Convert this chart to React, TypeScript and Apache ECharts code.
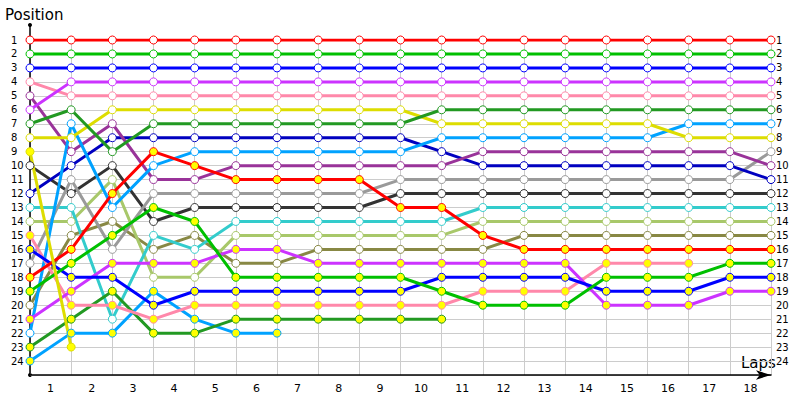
import React, { useEffect, useRef } from "react";
import * as echarts from "echarts";

const lapLabels = ["1", "2", "3", "4", "5", "6", "7", "8", "9", "10", "11", "12", "13", "14", "15", "16", "17", "18"];
const lapPoints = [0, 1, 2, 3, 4, 5, 6, 7, 8, 9, 10, 11, 12, 13, 14, 15, 16, 17, 18];

// positions per lap point (index 0 = start)
const red1 = [1, 1, 1, 1, 1, 1, 1, 1, 1, 1, 1, 1, 1, 1, 1, 1, 1, 1, 1];
const green1 = [2, 2, 2, 2, 2, 2, 2, 2, 2, 2, 2, 2, 2, 2, 2, 2, 2, 2, 2];
const blue1 = [3, 3, 3, 3, 3, 3, 3, 3, 3, 3, 3, 3, 3, 3, 3, 3, 3, 3, 3];
const magenta1 = [6, 4, 4, 4, 4, 4, 4, 4, 4, 4, 4, 4, 4, 4, 4, 4, 4, 4, 4];
const pink1 = [4, 5, 5, 5, 5, 5, 5, 5, 5, 5, 5, 5, 5, 5, 5, 5, 5, 5, 5];
const darkGreen1 = [7, 6, 9, 7, 7, 7, 7, 7, 7, 7, 6, 6, 6, 6, 6, 6, 6, 6, 6];
const yellow1 = [8, 8, 6, 6, 6, 6, 6, 6, 6, 6, 7, 7, 7, 7, 7, 7, 8, 8, 8];
const lightBlue1 = [22, 7, 13, 10, 9, 9, 9, 9, 9, 9, 8, 8, 8, 8, 8, 8, 7, 7, 7];
const purple1 = [5, 9, 7, 11, 11, 10, 10, 10, 10, 10, 10, 9, 9, 9, 9, 9, 9, 9, 10];
const darkBlue1 = [12, 10, 8, 8, 8, 8, 8, 8, 8, 8, 9, 10, 10, 10, 10, 10, 10, 10, 11];
const grey1 = [17, 11, 16, 12, 12, 12, 12, 12, 12, 11, 11, 11, 11, 11, 11, 11, 11, 11, 9];
const black1 = [10, 12, 10, 14, 13, 13, 13, 13, 13, 12, 12, 12, 12, 12, 12, 12, 12, 12, 12];
const cyan1 = [13, 13, 21, 15, 16, 14, 14, 14, 14, 14, 14, 13, 13, 13, 13, 13, 13, 13, 13];
const lightOlive1 = [14, 14, 11, 18, 18, 15, 15, 15, 15, 15, 15, 14, 14, 14, 14, 14, 14, 14, 14];
const olive1 = [20, 15, 14, 16, 15, 17, 17, 16, 16, 16, 16, 16, 15, 15, 15, 15, 15, 15, 15];
const red2 = [18, 16, 12, 9, 10, 11, 11, 11, 11, 13, 13, 15, 16, 16, 16, 16, 16, 16, 16];
const green2 = [19, 17, 15, 13, 14, 18, 18, 18, 18, 18, 19, 20, 20, 20, 18, 18, 18, 17, 17];
const blue2 = [16, 18, 18, 20, 19, 19, 19, 19, 19, 19, 18, 18, 18, 18, 19, 19, 19, 18, 18];
const magenta2 = [21, 19, 17, 17, 17, 16, 16, 17, 17, 17, 17, 17, 17, 17, 20, 20, 20, 19, 19];
const pink2 = [15, 20, 20, 21, 20, 20, 20, 20, 20, 20, 20, 19, 19, 19, 17, 17, 17];
const darkGreen2 = [23, 21, 19, 22, 22, 21, 21, 21, 21, 21, 21];
const lightBlue2 = [24, 22, 22, 19, 21, 22, 22];
const yellow2 = [9, 23];

const drivers = [
  { data: olive1, color: "#888844", fill: "#ffffff" },
  { data: lightOlive1, color: "#a8c86a", fill: "#ffffff" },
  { data: cyan1, color: "#33cccc", fill: "#ffffff" },
  { data: black1, color: "#333333", fill: "#ffffff" },
  { data: grey1, color: "#9a9a9a", fill: "#ffffff" },
  { data: darkBlue1, color: "#0000c0", fill: "#ffffff" },
  { data: purple1, color: "#993399", fill: "#ffffff" },
  { data: lightBlue1, color: "#00a2ff", fill: "#ffffff" },
  { data: yellow1, color: "#dddd00", fill: "#ffffff" },
  { data: darkGreen1, color: "#229922", fill: "#ffffff" },
  { data: pink1, color: "#ff88aa", fill: "#ffffff" },
  { data: magenta1, color: "#cc33ff", fill: "#ffffff" },
  { data: blue1, color: "#0000ff", fill: "#ffffff" },
  { data: green1, color: "#00c000", fill: "#ffffff" },
  { data: red1, color: "#ff0000", fill: "#ffffff" },
  { data: lightBlue2, color: "#00a2ff", fill: "#ffff00" },
  { data: darkGreen2, color: "#229922", fill: "#ffff00" },
  { data: pink2, color: "#ff88aa", fill: "#ffff00" },
  { data: magenta2, color: "#cc33ff", fill: "#ffff00" },
  { data: blue2, color: "#0000ff", fill: "#ffff00" },
  { data: green2, color: "#00c000", fill: "#ffff00" },
  { data: red2, color: "#ff0000", fill: "#ffff00" },
  { data: yellow2, color: "#dddd00", fill: "#ffff00" },
];

const FONT = "DejaVu Sans";

export default function App() {
  const ref = useRef<HTMLDivElement>(null);
  useEffect(() => {
    if (!ref.current) return;
    const chart = echarts.init(ref.current, null, { renderer: "svg" });
    const lineSeries: any[] = drivers.map((d) => ({
      type: "line",
      data: d.data.map((p, i) => [lapPoints[i], p]),
      showSymbol: false,
      symbol: "none",
      lineStyle: { color: d.color, width: 3 },
      itemStyle: { color: d.color },
      z: 2,
      silent: true,
    }));
    const dotSeries: any[] = drivers.map((d) => ({
      type: "scatter",
      data: d.data.map((p, i) => [lapPoints[i], p]),
      symbol: "circle",
      symbolSize: 8,
      itemStyle: { color: d.fill, borderColor: d.color, borderWidth: 1, opacity: 1 },
      z: 3,
      silent: true,
    }));
    const yCommon = {
      type: "value",
      inverse: true,
      min: 1,
      max: 25,
      interval: 1,
      axisTick: { show: false },
    };
    chart.setOption({
      animation: false,
      grid: { left: 30, right: 29, top: 40, bottom: 25, containLabel: false },
      xAxis: [
        {
          type: "value",
          min: 0,
          max: 18,
          interval: 1,
          axisLabel: { show: false },
          axisTick: { show: false },
          axisLine: {
            show: true,
            lineStyle: { color: "#000", width: 1.5 },
            symbol: ["none", "arrow"],
            symbolSize: [7, 15],
            symbolOffset: [0, 0],
          },
          splitLine: { show: true, lineStyle: { color: "#cccccc", width: 1 } },
        },
        {
          type: "category",
          data: lapLabels,
          position: "bottom",
          boundaryGap: true,
          axisLine: { show: false },
          axisTick: { show: false },
          splitLine: { show: false },
          axisLabel: { fontFamily: FONT, fontSize: 11, color: "#000", margin: 8 },
        },
      ],
      yAxis: [
        {
          ...yCommon,
          position: "left",
          axisLine: { show: true, lineStyle: { color: "#000", width: 1.5 } },
          splitLine: { show: true, lineStyle: { color: "#cccccc", width: 1 } },
          axisLabel: {
            fontFamily: FONT,
            fontSize: 10,
            color: "#000",
            align: "left",
            margin: 19,
            formatter: (v: number) => (v <= 24 ? String(v) : ""),
          },
        },
        {
          ...yCommon,
          position: "right",
          axisLine: { show: false },
          splitLine: { show: false },
          axisLabel: {
            fontFamily: FONT,
            fontSize: 10,
            color: "#000",
            align: "left",
            margin: 5,
            formatter: (v: number) => (v <= 24 ? String(v) : ""),
          },
        },
      ],
      graphic: [
        { type: "line", shape: { x1: 30, y1: 25, x2: 30, y2: 40 }, style: { stroke: "#000", lineWidth: 1.5 } },
        { type: "circle", shape: { cx: 30, cy: 25, r: 2 }, style: { fill: "#000" } },
        { type: "circle", shape: { cx: 30, cy: 375, r: 2 }, style: { fill: "#000" } },
        { type: "text", x: 5, y: 7, style: { text: "Position", fontFamily: FONT, fontSize: 15, fill: "#000" } },
        { type: "text", x: 741, y: 355, style: { text: "Laps", fontFamily: FONT, fontSize: 15, fill: "#000" } },
      ],
      series: [...lineSeries, ...dotSeries],
    });
    return () => chart.dispose();
  }, []);
  return <div ref={ref} style={{ width: 800, height: 400, position: "absolute", left: 0, top: 0 }} />;
}
